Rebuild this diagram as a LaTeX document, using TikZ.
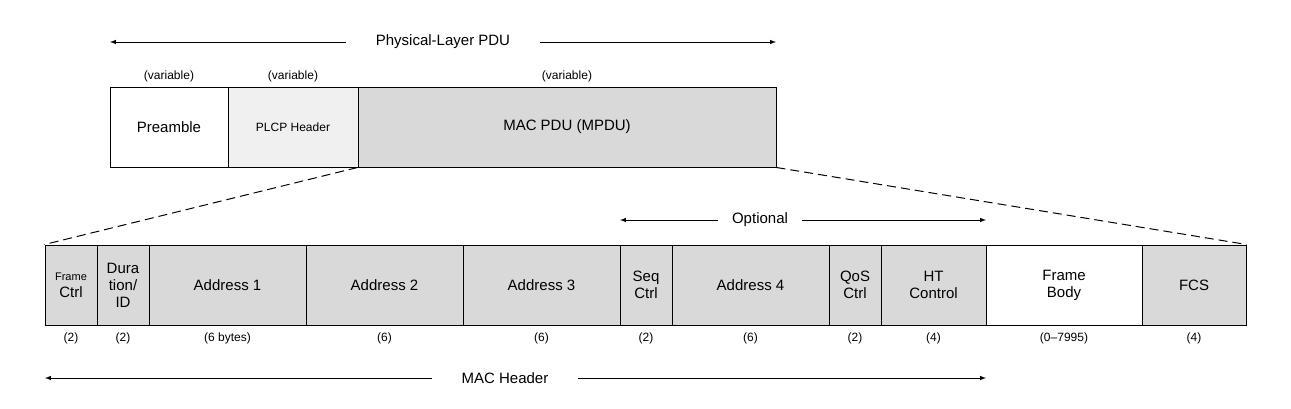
\documentclass[tikz,border=0pt]{standalone}
\usepackage{fontspec}
\setmainfont{Liberation Sans}
\begin{document}
\begin{tikzpicture}[x=1pt,y=-1pt,
  fld/.style={draw=black,line width=1pt,fill=gray!30,align=center,font=\fontsize{15}{17}\selectfont},
  sz/.style={font=\fontsize{12}{14}\selectfont},
  arr/.style={-latex,line width=1pt},
  lbl/.style={font=\fontsize{15}{17}\selectfont,fill=white,inner xsep=30pt}]
\useasboundingbox (0,0) rectangle (1291,408);
% top row
\node[fld,fill=white,minimum width=118pt,minimum height=80pt,inner sep=0] (pre) at (169,127) {Preamble};
\node[fld,fill=gray!12,minimum width=130pt,minimum height=80pt,inner sep=0,font=\fontsize{12}{14}\selectfont] (plcp) at (293,127) {PLCP Header};
\node[fld,minimum width=418pt,minimum height=80pt,inner sep=0] (mac) at (567,127) {MAC PDU (MPDU)};
\node[sz] (v1) at (169,76) {(variable)};
\node[sz] (v2) at (293,76) {(variable)};
\node[sz] (v3) at (567,76) {(variable)};
% physical-layer arrow
\coordinate (pl) at (110,42); \coordinate (pr) at (776,42);
\draw[arr] (443,42) -- (pl); \draw[arr] (443,42) -- (pr);
\node[lbl] (pt) at (443,42) {Physical-Layer PDU};
% bottom row
\def\fy{285}
\foreach \n/\a/\b/\t/\s/\f in {
 f1/45/97/{\fontsize{11}{13}\selectfont Frame\\Ctrl}/(2)/gray!30,
 f2/97/149/{Dura\\tion/\\ID}/(2)/gray!30,
 f3/149/306/Address 1/(6 bytes)/gray!30,
 f4/306/463/Address 2/(6)/gray!30,
 f5/463/620/Address 3/(6)/gray!30,
 f6/620/672/Seq\\Ctrl/(2)/gray!30,
 f7/672/829/Address 4/(6)/gray!30,
 f8/829/881/QoS\\Ctrl/(2)/gray!30,
 f9/881/986/HT\\Control/(4)/gray!30,
 f10/986/1142/Frame\\Body/(0--7995)/white,
 f11/1142/1246/FCS/(4)/gray!30}{
 \node[fld,fill=\f,minimum width=\b-\a,minimum height=80pt,inner sep=0] (\n) at ({(\a+\b)/2},\fy) {\t};
 \node[sz] (\n s) at ({(\a+\b)/2},338) {\s};
}
% dashed lines
\draw[dashed,line width=1pt,dash pattern=on 9pt off 5pt] (mac.south west) -- (f1.north west);
\draw[dashed,line width=1pt,dash pattern=on 9pt off 5pt] (mac.south east) -- (f11.north east);
% optional
\draw[arr] (760,220) -- (620,220); \draw[arr] (760,220) -- (986,220);
\node[lbl,inner xsep=14pt] (opt) at (760,220) {Optional};
% MAC header
\draw[arr] (505,378) -- (45,378); \draw[arr] (505,378) -- (986,378);
\node[lbl] (mh) at (505,378) {MAC Header};
\end{tikzpicture}
\end{document}
